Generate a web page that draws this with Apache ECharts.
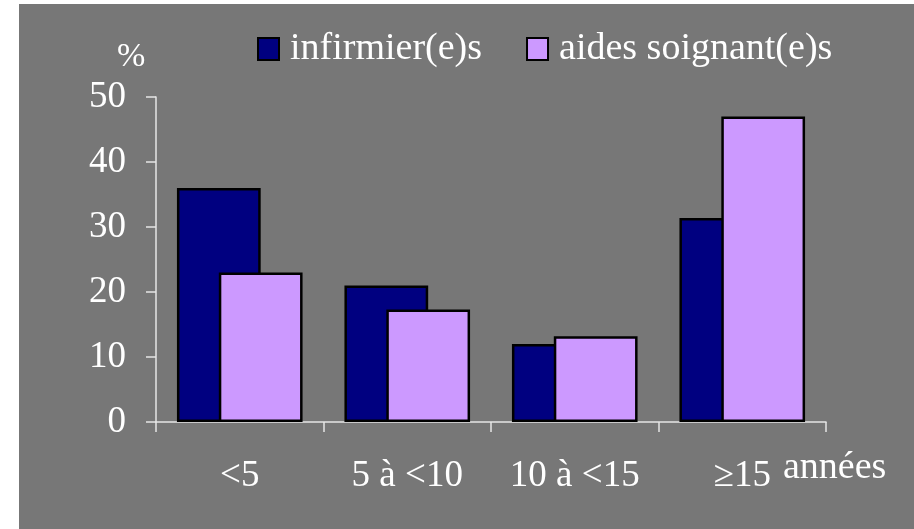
<!DOCTYPE html>
<html>
<head>
<meta charset="utf-8">
<script src="https://cdn.jsdelivr.net/npm/echarts@6/dist/echarts.min.js"></script>
<style>
  html, body { margin: 0; padding: 0; background: #ffffff; }
  .bg { position: absolute; left: 19px; top: 4px; width: 895px; height: 525px; background: #777777; }
  .chart { position: absolute; left: 0; top: 0; width: 914px; height: 529px; }
</style>
</head>
<body>
<div class="bg"></div>
<div class="chart"></div>
<script>
// catégories d'ancienneté (années)
const categories = ['<5', '5 à <10', '10 à <15', '≥15'];
const seriesNames = ['infirmier(e)s', 'aides soignant(e)s'];
// pourcentages
const infirmiers = [36, 21, 12, 31.4];
const aidesSoignants = [23, 17.3, 13.2, 47];
const yTicks = { min: 0, max: 50, interval: 10 };

const FONT = '"Liberation Serif", "Times New Roman", serif';
const axisColor = '#e6e6e6';

const chart = echarts.init(document.querySelector('.chart'));
chart.setOption({
  backgroundColor: 'transparent',
  animation: false,
  textStyle: { fontFamily: FONT },
  legend: {
    left: 257,
    top: 30,
    padding: 0,
    itemWidth: 21,
    itemHeight: 22,
    itemGap: 44,
    icon: 'rect',
    textStyle: { color: '#ffffff', fontSize: 38, fontFamily: FONT, padding: [0, 0, 0, 6] },
    data: seriesNames,
  },
  grid: { left: 156, right: 88, top: 97, bottom: 107 },
  xAxis: {
    type: 'category',
    data: categories,
    axisLine: { lineStyle: { color: axisColor, width: 1.5 } },
    axisTick: { show: true, interval: 0, length: 10, lineStyle: { color: axisColor, width: 1.5 } },
    axisLabel: { color: '#ffffff', fontSize: 37, fontFamily: FONT, margin: 36, interval: 0, hideOverlap: false },
  },
  yAxis: {
    type: 'value',
    min: yTicks.min,
    max: yTicks.max,
    interval: yTicks.interval,
    axisLine: { show: true, lineStyle: { color: axisColor, width: 1.5 } },
    axisTick: { show: true, length: 10, lineStyle: { color: axisColor, width: 1.5 } },
    splitLine: { show: false },
    axisLabel: { color: '#ffffff', fontSize: 37, fontFamily: FONT, margin: 30 },
  },
  graphic: [
    {
      type: 'text', left: 117, top: 40,
      style: { text: '%', fill: '#ffffff', fontSize: 34, fontFamily: FONT },
    },
    {
      type: 'text', left: 783, top: 449,
      style: { text: 'années', fill: '#ffffff', fontSize: 38, fontFamily: FONT },
    },
  ],
  series: [
    {
      name: seriesNames[0],
      type: 'bar',
      data: infirmiers,
      barWidth: '50%',
      barGap: '-50%',
      itemStyle: { color: '#000080', borderColor: '#000000', borderWidth: 2.5 },
    },
    {
      name: seriesNames[1],
      type: 'bar',
      data: aidesSoignants,
      barWidth: '50%',
      barGap: '-50%',
      itemStyle: { color: '#cc99ff', borderColor: '#000000', borderWidth: 2.5 },
    },
  ],
});
</script>
</body>
</html>
